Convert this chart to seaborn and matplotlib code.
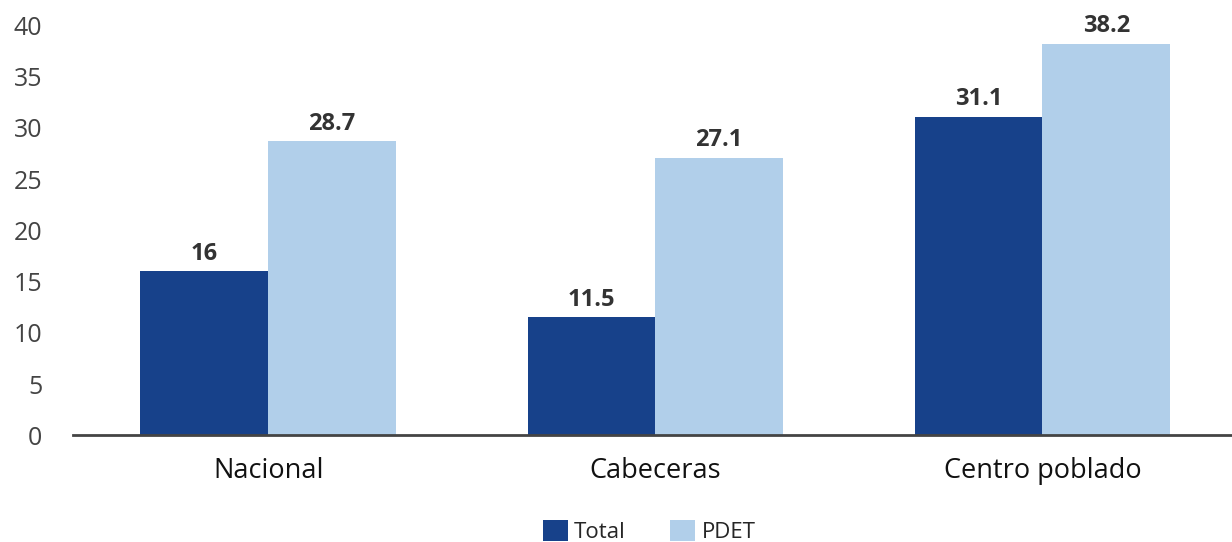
import matplotlib
matplotlib.use("Agg")
import matplotlib.pyplot as plt
import seaborn as sns
import pandas as pd

# ----------------------- Data
categories = ["Nacional", "Cabeceras", "Centro poblado"]
total_vals = [16, 11.5, 31.1]
pdet_vals = [28.7, 27.1, 38.2]
series_names = ["Total", "PDET"]
label_text = {"Total": ["16", "11.5", "31.1"], "PDET": ["28.7", "27.1", "38.2"]}

df = pd.DataFrame({
    "Zona": categories * 2,
    "Valor": total_vals + pdet_vals,
    "Serie": ["Total"] * 3 + ["PDET"] * 3,
})

# ----------------------- Style
sns.set_theme(style="white")
plt.rcParams["font.family"] = ["Open Sans", "DejaVu Sans"]

colors = {"Total": "#17418A", "PDET": "#B1CFEA"}

fig = plt.figure(figsize=(12.32, 5.42), dpi=100)
ax = fig.add_axes([0.059, 0.197, 0.941, 0.756])

sns.barplot(
    data=df, x="Zona", y="Valor", hue="Serie",
    order=categories, hue_order=series_names,
    palette=colors, saturation=1, width=0.66, ax=ax, legend=True,
    linewidth=0, edgecolor="none"
)

# value labels
for cont, name in zip(ax.containers, series_names):
    ax.bar_label(cont, labels=label_text[name], padding=4,
                 fontsize=17, fontweight="bold", color="#333333")

ax.set_ylim(0, 40)
ax.set_xlim(-0.505, 2.49)
ax.set_yticks(range(0, 41, 5))
ax.tick_params(axis="y", labelsize=18, labelcolor="#444444", length=0, pad=22)
ax.tick_params(axis="x", labelsize=19.5, labelcolor="#111111", length=0, pad=16)
ax.set_xlabel("")
ax.set_ylabel("")

for s in ["top", "right", "left"]:
    ax.spines[s].set_visible(False)
ax.spines["bottom"].set_color("#444444")
ax.spines["bottom"].set_linewidth(2)

handles, labels = ax.get_legend_handles_labels()
ax.get_legend().remove()
fig.legend(
    handles, labels,
    loc="center", bbox_to_anchor=(0.527, 0.02), ncol=2,
    frameon=False, fontsize=16, handlelength=1.1, handleheight=1.1,
    columnspacing=2.0, handletextpad=0.3, borderpad=0
)

fig.savefig("out.png", dpi=100)
